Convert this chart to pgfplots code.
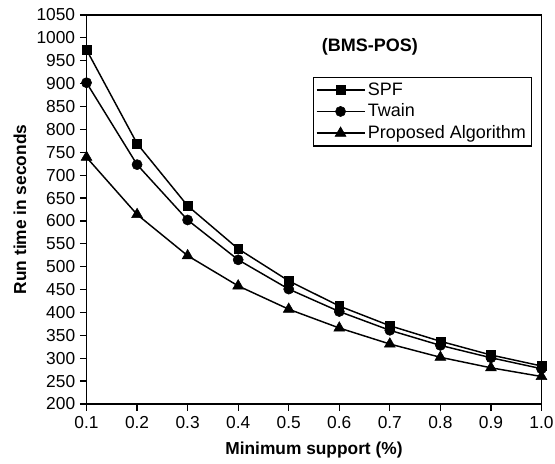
\documentclass[border=0pt]{standalone}
\usepackage{pgfplots}
\pgfplotsset{compat=1.18}
\usepackage{fontspec}
\setmainfont{Liberation Sans}
\begin{document}
\begin{tikzpicture}
\useasboundingbox (-64.9pt,-45pt) rectangle (351.4pt,303pt);
\begin{axis}[
  scale only axis,
  width=341.25pt, height=291.75pt,
  xmin=0.1, xmax=1.0, ymin=200, ymax=1050,
  xtick={0.1,0.2,...,1.0},
  ytick={200,250,...,1050},
  xticklabel style={/pgf/number format/fixed, /pgf/number format/fixed zerofill, /pgf/number format/precision=1, yshift=-1pt},
  yticklabel style={/pgf/number format/1000 sep={}},
  /pgf/number format/assume math mode=true,
  tick label style={font=\fontsize{13}{15}\selectfont},
  tick align=outside,
  xtick pos=bottom, ytick pos=left,
  major tick length=5pt,
  axis line style={line width=1.1pt},
  tick style={line width=0.9pt, black},
  legend style={at={(rel axis cs:0.497,0.841)}, anchor=north west,
    font=\fontsize{13.5}{16}\selectfont, draw=black, line width=0.8pt,
    row sep=1pt, inner xsep=2pt, inner ysep=2pt},
  legend cell align=left,
  legend image code/.code={
    \draw[line width=1.1pt, mark repeat=2, mark phase=2] plot coordinates {(0pt,0pt) (18pt,0pt) (36pt,0pt)};},
  every axis plot/.append style={black, line width=1.1pt},
]
\addplot[mark=square*, mark size=3.3pt, mark options={line width=0.4pt}] coordinates {
(0.1,974)(0.2,769)(0.3,633)(0.4,539)(0.5,469)(0.6,414)(0.7,371)(0.8,337)(0.9,307)(1.0,283)};
\addlegendentry{SPF}
\addplot[mark=*, mark size=3.8pt, mark options={line width=0.4pt}] coordinates {
(0.1,902)(0.2,723)(0.3,602)(0.4,515)(0.5,451)(0.6,402)(0.7,361)(0.8,328)(0.9,301)(1.0,277)};
\addlegendentry{Twain}
\addplot[mark=triangle*, mark size=4.7pt, mark options={line width=0.4pt}] coordinates {
(0.1,739)(0.2,614)(0.3,524)(0.4,458)(0.5,407)(0.6,366)(0.7,331)(0.8,302)(0.9,279)(1.0,260)};
\addlegendentry{Proposed Algorithm}
\node[font=\fontsize{13.5}{16}\selectfont\bfseries] at (rel axis cs:0.623,0.918) {(BMS-POS)};
\end{axis}
\node[rotate=90, font=\fontsize{13}{15}\selectfont\bfseries] at (-50pt,145.9pt) {Run time in seconds};
\node[font=\fontsize{13}{15}\selectfont\bfseries] at (170.6pt,-34.5pt) {Minimum support (\%)};
\end{tikzpicture}
\end{document}
